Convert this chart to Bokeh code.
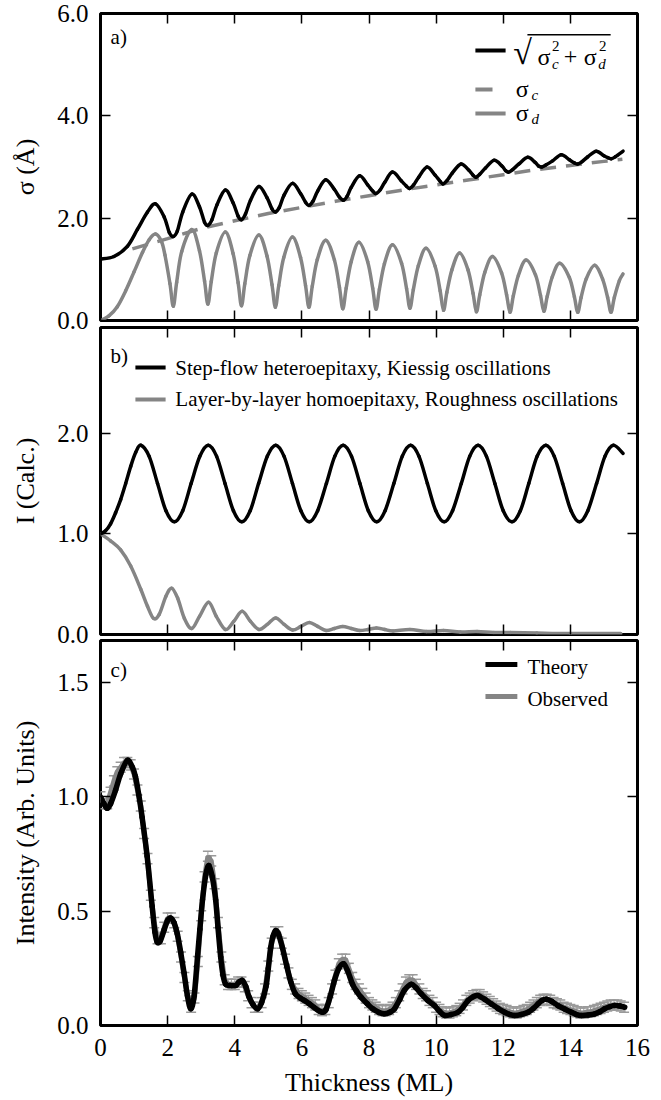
import numpy as np
from bokeh.plotting import figure
from bokeh.layouts import column
from bokeh.models import (Range1d, LinearAxis, FixedTicker, NumeralTickFormatter,
                          Label, BoxAnnotation, Whisker, TeeHead, ColumnDataSource)
from bokeh.embed import file_html
from bokeh.resources import INLINE

FONT = "Liberation Serif"
BLACK = "#000000"
GRAY = "#858585"
ERRGRAY = "#9a9a9a"

# ---------------- data ----------------
x_ticks = [0, 2, 4, 6, 8, 10, 12, 14, 16]
a_yticks = [0, 2, 4, 6]
b_yticks = [0, 1, 2]
c_yticks = [0, 0.5, 1.0, 1.5]

# panel a: total roughness sqrt(sc^2+sd^2)
a_tot_x = [0.0, 0.4, 0.8, 1.1, 1.4, 1.64, 1.9, 2.05, 2.17, 2.29, 2.45, 2.72, 2.95, 3.10, 3.20, 3.32, 3.47,
           3.72, 3.95, 4.10, 4.20, 4.32, 4.47, 4.72, 4.96, 5.11, 5.21, 5.33, 5.47, 5.72, 5.96, 6.11, 6.21,
           6.33, 6.47, 6.71, 6.97, 7.12, 7.24, 7.35, 7.47, 7.72, 7.96, 8.11, 8.21, 8.33, 8.47, 8.70, 8.96,
           9.11, 9.21, 9.33, 9.48, 9.73, 9.97, 10.12, 10.21, 10.33, 10.48, 10.74, 10.97, 11.10, 11.19,
           11.30, 11.47, 11.73, 11.96, 12.07, 12.16, 12.28, 12.47, 12.73, 12.95, 13.05, 13.15, 13.27,
           13.47, 13.73, 13.97, 14.12, 14.22, 14.34, 14.52, 14.77, 15.00, 15.13, 15.22, 15.34, 15.57]
a_tot_y = [1.20, 1.25, 1.45, 1.78, 2.12, 2.28, 2.02, 1.72, 1.64, 1.75, 2.12, 2.47, 2.22, 1.92, 1.86, 1.97, 2.26,
           2.55, 2.30, 2.04, 1.97, 2.08, 2.35, 2.62, 2.40, 2.18, 2.12, 2.21, 2.45, 2.68, 2.48, 2.31, 2.25,
           2.33, 2.53, 2.75, 2.56, 2.41, 2.35, 2.43, 2.60, 2.83, 2.65, 2.53, 2.48, 2.55, 2.70, 2.90, 2.73,
           2.63, 2.58, 2.65, 2.80, 3.00, 2.84, 2.72, 2.67, 2.74, 2.88, 3.06, 2.94, 2.84, 2.80,
           2.86, 2.98, 3.13, 3.02, 2.93, 2.90, 2.95, 3.06, 3.19, 3.09, 3.02, 3.00, 3.04,
           3.12, 3.24, 3.14, 3.08, 3.06, 3.10, 3.20, 3.31, 3.22, 3.18, 3.16, 3.20, 3.31]

# panel a: sigma_c (dashed)
a_sc_x = [0.95, 2, 3, 4, 5, 6, 7, 8, 9, 10, 11, 12, 13, 14, 15, 15.55]
a_sc_y = [1.40, 1.60, 1.80, 1.95, 2.09, 2.21, 2.33, 2.44, 2.55, 2.65, 2.75, 2.85, 2.95, 3.03, 3.11, 3.15]

# panel a: sigma_d
a_sd_x = [0.0, 0.25, 0.5, 0.75, 1.0, 1.25, 1.45, 1.64, 1.82, 1.92, 2.07, 2.17, 2.27, 2.42, 2.72, 2.95, 3.10,
          3.20, 3.30, 3.45, 3.72, 3.95, 4.10, 4.20, 4.30, 4.45, 4.72, 4.96, 5.11, 5.21, 5.31, 5.46, 5.72,
          5.96, 6.11, 6.21, 6.31, 6.46, 6.71, 6.97, 7.12, 7.22, 7.32, 7.47, 7.70, 7.96, 8.11, 8.21, 8.31,
          8.46, 8.70, 8.97, 9.12, 9.22, 9.32, 9.47, 9.70, 9.97, 10.12, 10.22, 10.32, 10.47, 10.70, 10.95,
          11.10, 11.20, 11.30, 11.45, 11.68, 11.95, 12.10, 12.20, 12.30, 12.45, 12.68, 12.96, 13.11,
          13.21, 13.31, 13.46, 13.68, 13.97, 14.12, 14.22, 14.32, 14.47, 14.72, 14.96, 15.11, 15.21,
          15.31, 15.46, 15.57]
a_sd_y = [0.00, 0.09, 0.27, 0.58, 0.95, 1.33, 1.58, 1.69, 1.54, 1.28, 0.72, 0.28, 0.75, 1.35, 1.78, 1.36, 0.77,
          0.32, 0.76, 1.32, 1.73, 1.31, 0.74, 0.29, 0.72, 1.27, 1.67, 1.26, 0.70, 0.26, 0.68, 1.23, 1.63,
          1.23, 0.68, 0.26, 0.67, 1.19, 1.57, 1.18, 0.65, 0.23, 0.63, 1.15, 1.53, 1.15, 0.63, 0.22, 0.61,
          1.11, 1.48, 1.12, 0.62, 0.24, 0.60, 1.07, 1.41, 1.06, 0.58, 0.20, 0.55, 0.99, 1.32, 0.99,
          0.53, 0.17, 0.50, 0.94, 1.25, 0.93, 0.50, 0.16, 0.48, 0.88, 1.18, 0.89, 0.49,
          0.18, 0.47, 0.85, 1.12, 0.84, 0.46, 0.16, 0.45, 0.81, 1.08, 0.81, 0.45, 0.16,
          0.45, 0.78, 0.91]

# panel b: step-flow (Kiessig)
b_sf_x = [0.0, 0.15, 0.3, 0.45, 0.6, 0.75, 0.9, 1.05, 1.2, 1.45, 1.7, 1.95, 2.2, 2.45, 2.7, 2.96, 3.21,
          3.46, 3.71, 3.96, 4.21, 4.46, 4.71, 4.97, 5.22, 5.47, 5.72, 5.97, 6.22, 6.47, 6.73, 6.98, 7.23,
          7.48, 7.73, 7.98, 8.23, 8.48, 8.74, 8.99, 9.24, 9.49, 9.74, 9.99, 10.24, 10.49, 10.75, 11.0,
          11.25, 11.5, 11.75, 12.0, 12.26, 12.51, 12.76, 13.01, 13.27, 13.52, 13.77, 14.02, 14.27, 14.52,
          14.78, 15.03, 15.28, 15.57]
b_sf_y = [1.00, 1.03, 1.10, 1.21, 1.34, 1.50, 1.67, 1.81, 1.88, 1.77, 1.50, 1.23, 1.12, 1.23, 1.50, 1.77, 1.88,
          1.77, 1.50, 1.23, 1.12, 1.23, 1.50, 1.77, 1.88, 1.77, 1.50, 1.23, 1.12, 1.23, 1.50, 1.77, 1.88,
          1.77, 1.50, 1.23, 1.12, 1.23, 1.50, 1.77, 1.88, 1.77, 1.50, 1.23, 1.12, 1.23, 1.50, 1.77,
          1.88, 1.77, 1.50, 1.23, 1.12, 1.23, 1.50, 1.77, 1.88, 1.77, 1.50, 1.23, 1.12, 1.23,
          1.50, 1.77, 1.88, 1.80]

# panel b: layer-by-layer (roughness)
b_lbl_x = [0.0, 0.3, 0.6, 0.9, 1.2, 1.4, 1.58, 1.75, 1.95, 2.12, 2.3, 2.5, 2.72, 2.95, 3.22, 3.45, 3.72,
           3.97, 4.22, 4.47, 4.72, 4.97, 5.22, 5.47, 5.72, 5.97, 6.22, 6.47, 6.72, 6.97, 7.22, 7.47, 7.72,
           7.97, 8.22, 8.47, 8.72, 9.22, 9.72, 10.22, 10.72, 11.22, 11.72, 12.22, 13.0, 14.0, 15.5]
b_lbl_y = [1.00, 0.93, 0.84, 0.68, 0.45, 0.28, 0.16, 0.20, 0.38, 0.46, 0.36, 0.16, 0.06, 0.18, 0.32, 0.18, 0.05,
           0.13, 0.23, 0.13, 0.05, 0.10, 0.165, 0.10, 0.045, 0.08, 0.12, 0.08, 0.04, 0.06, 0.08, 0.06, 0.04,
           0.05, 0.065, 0.05, 0.035, 0.05, 0.03, 0.04, 0.025, 0.03, 0.02, 0.02, 0.015, 0.01, 0.01]

# panel c: theory
c_th_x = [0.0, 0.1, 0.2, 0.3, 0.45, 0.6, 0.8, 0.95, 1.04, 1.14, 1.24, 1.39, 1.54, 1.62, 1.69, 1.78, 1.9, 2.0,
          2.09, 2.19, 2.29, 2.39, 2.49, 2.59, 2.69, 2.79, 2.89, 2.96, 3.04, 3.14, 3.23, 3.33, 3.43, 3.5,
          3.58, 3.65, 3.73, 3.85, 4.03, 4.13, 4.23, 4.33, 4.43, 4.55, 4.68, 4.8, 4.93, 5.0, 5.07, 5.14,
          5.22, 5.30, 5.42, 5.55, 5.67, 5.8, 5.95, 6.07, 6.22, 6.4, 6.52, 6.62, 6.72, 6.85, 6.97, 7.1,
          7.24, 7.36, 7.51, 7.63, 7.76, 7.95, 8.11, 8.3, 8.46, 8.62, 8.76, 8.92, 9.05, 9.25, 9.4, 9.55,
          9.75, 9.95, 10.1, 10.25, 10.45, 10.65, 10.8, 10.95, 11.1, 11.24, 11.44, 11.64, 11.84, 12.04,
          12.2, 12.34, 12.54, 12.74, 12.9, 13.04, 13.16, 13.28, 13.45, 13.63, 13.83, 14.03, 14.18,
          14.33, 14.53, 14.73, 14.88, 15.02, 15.17, 15.32, 15.47, 15.62]
c_th_y = [1.00, 0.97, 0.95, 0.97, 1.03, 1.10, 1.16, 1.13, 1.09, 1.01, 0.91, 0.74, 0.52, 0.41, 0.365, 0.37, 0.42,
          0.46, 0.47, 0.45, 0.40, 0.32, 0.23, 0.13, 0.073, 0.13, 0.30, 0.42, 0.55, 0.66, 0.70, 0.65, 0.55,
          0.43, 0.30, 0.22, 0.18, 0.175, 0.175, 0.19, 0.197, 0.17, 0.124, 0.09, 0.073, 0.10, 0.17, 0.25,
          0.34, 0.39, 0.415, 0.40, 0.34, 0.26, 0.19, 0.14, 0.12, 0.11, 0.095, 0.075, 0.063, 0.058, 0.07,
          0.13, 0.197, 0.25, 0.27, 0.24, 0.18, 0.15, 0.124, 0.095, 0.073, 0.057, 0.051, 0.058, 0.073,
          0.115, 0.153, 0.18, 0.165, 0.139, 0.11, 0.087, 0.062, 0.044, 0.048, 0.058, 0.08, 0.109, 0.125,
          0.131, 0.115, 0.095, 0.075, 0.058, 0.048, 0.044, 0.048, 0.058, 0.075, 0.095, 0.11, 0.115, 0.105,
          0.087, 0.072, 0.058, 0.048, 0.044, 0.046, 0.051, 0.06, 0.073, 0.082, 0.087, 0.085, 0.08]

# panel c: observed (0.1 ML steps from 0 to 15.6)
c_obs_x = np.round(np.arange(0, 15.65, 0.1), 1)
c_obs_y = [1.00, 0.97, 0.97, 1.02, 1.07, 1.11, 1.13, 1.15, 1.15, 1.14,
           1.10, 1.03, 0.96, 0.84, 0.73, 0.57, 0.45, 0.38, 0.38, 0.43,
           0.47, 0.47, 0.45, 0.39, 0.30, 0.21, 0.13, 0.08, 0.12, 0.28,
           0.48, 0.65, 0.74, 0.72, 0.62, 0.45, 0.30, 0.20, 0.18, 0.18,
           0.18, 0.19, 0.19, 0.17, 0.13, 0.10, 0.08, 0.08, 0.10, 0.16,
           0.26, 0.36, 0.41, 0.41, 0.36, 0.29, 0.23, 0.18, 0.16, 0.14,
           0.13, 0.12, 0.11, 0.10, 0.09, 0.07, 0.065, 0.07, 0.10, 0.16,
           0.22, 0.27, 0.29, 0.29, 0.25, 0.21, 0.18, 0.16, 0.14, 0.12,
           0.10, 0.09, 0.08, 0.07, 0.065, 0.065, 0.07, 0.08, 0.10, 0.13,
           0.16, 0.19, 0.20, 0.20, 0.18, 0.16, 0.14, 0.13, 0.11, 0.10,
           0.08, 0.07, 0.06, 0.055, 0.055, 0.06, 0.065, 0.075, 0.09, 0.11,
           0.12, 0.13, 0.135, 0.135, 0.125, 0.115, 0.105, 0.095, 0.085, 0.075,
           0.07, 0.065, 0.06, 0.055, 0.055, 0.06, 0.065, 0.07, 0.08, 0.09,
           0.10, 0.11, 0.115, 0.115, 0.11, 0.10, 0.095, 0.09, 0.08, 0.075,
           0.07, 0.065, 0.06, 0.055, 0.055, 0.06, 0.06, 0.065, 0.07, 0.075,
           0.08, 0.085, 0.09, 0.09, 0.09, 0.085, 0.08]
c_obs_err = 0.022


# ---------------- helpers ----------------
def smooth(p, x, y, **kw):
    """Draw a smooth curve through the given points with Bokeh's bezier glyph."""
    x = np.asarray(x, float)
    y = np.asarray(y, float)
    n = len(x)
    xp = np.concatenate([[x[0]], x, [x[-1]]])
    yp = np.concatenate([[y[0]], y, [y[-1]]])
    cx0 = xp[1:n] + (xp[2:n + 1] - xp[0:n - 1]) / 6.0
    cy0 = yp[1:n] + (yp[2:n + 1] - yp[0:n - 1]) / 6.0
    cx1 = xp[2:n + 1] - (xp[3:n + 2] - xp[1:n]) / 6.0
    cy1 = yp[2:n + 1] - (yp[3:n + 2] - yp[1:n]) / 6.0
    return p.bezier(x0=x[:-1], y0=y[:-1], x1=x[1:], y1=y[1:],
                    cx0=cx0, cy0=cy0, cx1=cx1, cy1=cy1, line_cap="round", **kw)


def make_fig(h, top, bottom, yend, yticks, ylabel, show_x):
    p = figure(width=661, height=h, x_range=Range1d(0, 16), y_range=Range1d(0, yend),
               output_backend="svg", toolbar_location=None,
               x_axis_location=None, y_axis_location=None,
               min_border_left=100, min_border_right=24,
               min_border_top=top, min_border_bottom=bottom)
    p.grid.visible = False
    p.outline_line_color = "black"
    p.outline_line_width = 3
    p.background_fill_color = "white"
    p.border_fill_color = None
    xt = FixedTicker(ticks=x_ticks)
    yt = FixedTicker(ticks=yticks)
    for side in ("left", "right", "above", "below"):
        ax = LinearAxis(ticker=yt if side in ("left", "right") else xt)
        ax.axis_line_color = None
        ax.major_tick_in = 10
        ax.major_tick_out = 0
        ax.major_tick_line_color = "black"
        ax.major_tick_line_width = 1.5
        ax.minor_tick_line_color = None
        show = side == "left" or (side == "below" and show_x)
        if show:
            ax.major_label_text_font = FONT
            ax.major_label_text_font_size = "25px"
            ax.major_label_text_color = "black"
            ax.axis_label_text_font = FONT
            ax.axis_label_text_font_size = "26px"
            ax.axis_label_text_font_style = "normal"
            ax.axis_label_text_color = "black"
            if side == "left":
                ax.formatter = NumeralTickFormatter(format="0.0")
                ax.major_label_standoff = 12
                ax.axis_label = ylabel
                ax.axis_label_standoff = 14
            else:
                ax.major_label_standoff = 13
                ax.axis_label = "Thickness (ML)"
                ax.axis_label_standoff = 9
        else:
            ax.major_label_text_font_size = "1px"
            ax.major_label_text_color = None
            ax.major_label_standoff = 0
        p.add_layout(ax, side)
    return p


def lab(p, x, y, text, size, italic=False):
    p.add_layout(Label(x=x, y=y, text=text, text_font=FONT, text_font_size=size,
                       text_font_style="italic" if italic else "normal",
                       text_baseline="middle", text_align="left", text_color="black"))


def box(p, l, r, b, t, color):
    p.add_layout(BoxAnnotation(left=l, right=r, bottom=b, top=t, fill_color=color,
                               fill_alpha=1.0, line_color=None))


# ---------------- panel a ----------------
pa = make_fig(335, 13, 15, 6.0, a_yticks, "σ (Å)", False)
pa.line(a_sc_x, a_sc_y, line_color=GRAY, line_width=3.5, line_dash="16 10")
smooth(pa, a_sd_x, a_sd_y, line_color=GRAY, line_width=3.5)
smooth(pa, a_tot_x, a_tot_y, line_color=BLACK, line_width=3.5)
lab(pa, 0.30, 5.55, "a)", "21px")
box(pa, 11.17, 12.07, 5.238, 5.316, BLACK)
lab(pa, 12.30, 5.23, "√", "34px")
box(pa, 12.72, 15.20, 5.572, 5.600, BLACK)
lab(pa, 13.02, 5.15, "σ", "24px")
lab(pa, 13.45, 5.01, "c", "15px", italic=True)
lab(pa, 13.45, 5.37, "2", "15px")
lab(pa, 13.80, 5.15, "+", "24px")
lab(pa, 14.40, 5.15, "σ", "24px")
lab(pa, 14.83, 5.01, "d", "15px", italic=True)
lab(pa, 14.85, 5.37, "2", "15px")
box(pa, 11.17, 11.68, 4.475, 4.553, GRAY)
lab(pa, 12.37, 4.53, "σ", "24px")
lab(pa, 12.84, 4.40, "c", "15px", italic=True)
box(pa, 11.17, 12.07, 4.006, 4.084, GRAY)
lab(pa, 12.37, 4.06, "σ", "24px")
lab(pa, 12.84, 3.93, "d", "15px", italic=True)

# ---------------- panel b ----------------
pb = make_fig(329, 7, 15, 3.05, b_yticks, "I (Calc.)", False)
pb.margin = (-15, 0, 0, 0)
smooth(pb, b_lbl_x, b_lbl_y, line_color=GRAY, line_width=3.5)
smooth(pb, b_sf_x, b_sf_y, line_color=BLACK, line_width=3.5)
lab(pb, 0.30, 2.77, "b)", "21px")
box(pb, 1.04, 1.94, 2.633, 2.672, BLACK)
lab(pb, 2.23, 2.652, "Step-flow heteroepitaxy, Kiessig oscillations", "21px")
box(pb, 1.04, 1.94, 2.315, 2.355, GRAY)
lab(pb, 2.23, 2.335, "Layer-by-layer homoepitaxy, Roughness oscillations", "21px")

# ---------------- panel c ----------------
pc = make_fig(466, 6, 75, 1.684, c_yticks, "Intensity (Arb. Units)", True)
pc.margin = (-15, 0, 0, 0)
obs_y = np.array(c_obs_y)
src = ColumnDataSource(dict(x=c_obs_x, y=obs_y, upper=obs_y + c_obs_err, lower=obs_y - c_obs_err))
pc.line("x", "y", source=src, line_color=GRAY, line_width=5)
pc.add_layout(Whisker(source=src, base="x", upper="upper", lower="lower", dimension="height",
                      line_color=ERRGRAY, line_width=1,
                      upper_head=TeeHead(size=10, line_color=ERRGRAY, line_width=1.5),
                      lower_head=TeeHead(size=10, line_color=ERRGRAY, line_width=1.5)))
smooth(pc, c_th_x, c_th_y, line_color=BLACK, line_width=5.5)
lab(pc, 0.30, 1.557, "c)", "21px")
box(pc, 11.47, 12.42, 1.568, 1.590, BLACK)
lab(pc, 12.72, 1.567, "Theory", "21px")
box(pc, 11.47, 12.42, 1.428, 1.450, GRAY)
lab(pc, 12.72, 1.430, "Observed", "21px")

layout = column(pa, pb, pc)
open("out.html", "w").write(file_html(layout, INLINE))
